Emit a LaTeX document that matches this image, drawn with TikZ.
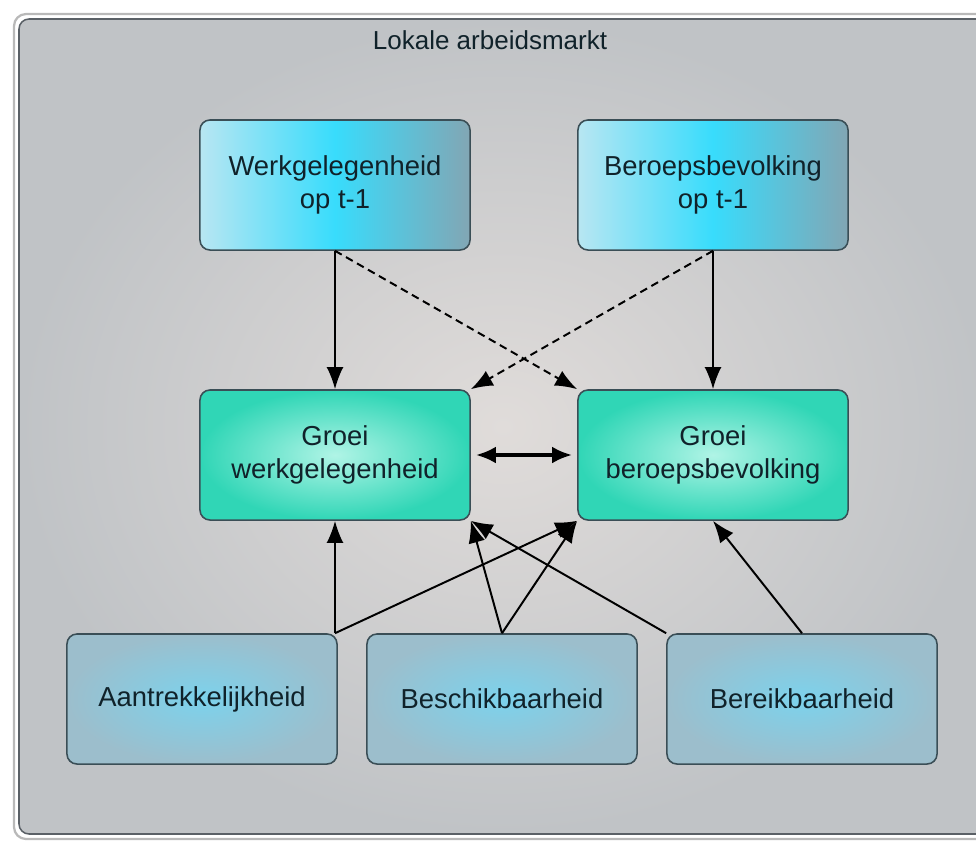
\documentclass[tikz,border=0pt]{standalone}
\usepackage{fontspec}
\setmainfont{Liberation Sans}
\usetikzlibrary{arrows.meta}
\definecolor{FrameClr}{HTML}{5A6066}
\definecolor{BoxLine}{HTML}{3A4E56}
\definecolor{TxtClr}{HTML}{10222A}
\definecolor{TopL}{HTML}{B8E6F2}
\definecolor{TopM}{HTML}{38DCFC}
\definecolor{TopR}{HTML}{82A6B4}
\definecolor{GrowIn}{HTML}{B0F4E6}
\definecolor{GrowOut}{HTML}{30D6B6}
\definecolor{BotIn}{HTML}{7CD2EC}
\definecolor{BotOut}{HTML}{9CBECC}
\definecolor{BackIn}{HTML}{E0DCDA}
\definecolor{BackOut}{HTML}{C0C3C6}

\begin{document}
\begin{tikzpicture}[x=0.025cm,y=-0.025cm,
  box/.style={draw=BoxLine,line width=1.1pt,rounded corners=0.25cm,
    minimum width=6.75cm,minimum height=3.25cm,align=center,
    text=TxtClr,font=\fontsize{19.5}{23}\selectfont},
  lagged/.style={box,left color=TopL,right color=TopR,middle color=TopM},
  growth/.style={box,inner color=GrowIn,outer color=GrowOut},
  factor/.style={box,inner color=BotIn,outer color=BotOut},
  link/.style={line width=1.4pt,-{Latex[length=0.55cm,width=0.42cm]}},
  lag/.style={link,dash pattern=on 5.5pt off 3.5pt}]
\useasboundingbox (0,0) rectangle (976,844);
\clip (0,0) rectangle (976,844);

\draw[gray!55,line width=1.6pt,rounded corners=0.3cm] (14,14) rectangle (992,839);
\shade[inner color=BackIn,outer color=BackOut,rounded corners=0.25cm] (19,19) rectangle (987,834);
\draw[FrameClr,line width=1.1pt,rounded corners=0.25cm] (19,19) rectangle (987,834);

\node[text=TxtClr,font=\fontsize{18.5}{22}\selectfont] (title) at (490,40) {Lokale arbeidsmarkt};

\node[lagged] (wg) at (335,185) {Werkgelegenheid\\op t-1};
\node[lagged] (bb) at (713,185) {Beroepsbevolking\\op t-1};
\node[growth] (gw) at (335,455) {Groei\\werkgelegenheid};
\node[growth] (gb) at (713,455) {Groei\\beroepsbevolking};
\node[factor] (aa) at (202,699) {Aantrekkelijkheid};
\node[factor] (bs) at (502,699) {Beschikbaarheid};
\node[factor] (br) at (802,699) {Bereikbaarheid};

\draw[link] (wg.south) -- (gw.north);
\draw[link] (bb.south) -- (gb.north);
\draw[lag] (wg.south) -- (gb.north west);
\draw[lag] (bb.south) -- (gw.north east);
\draw[line width=2.6pt,{Latex[length=0.5cm,width=0.42cm]}-{Latex[length=0.5cm,width=0.42cm]}] (gw.east) ++(5,0) coordinate (dl) (gb.west) ++(-5,0) coordinate (dr) (dl) -- (dr);

\draw[link] (aa.north -| gw.south) -- (gw.south);
\draw[link] (aa.north -| gw.south) -- (gb.south west);
\draw[link] (bs.north) -- (gw.south east);
\draw[link] (bs.north) -- (gb.south west);
\draw[link] (br.north west) -- (gw.south east);
\draw[link] (br.north) -- (gb.south);

\end{tikzpicture}
\end{document}
